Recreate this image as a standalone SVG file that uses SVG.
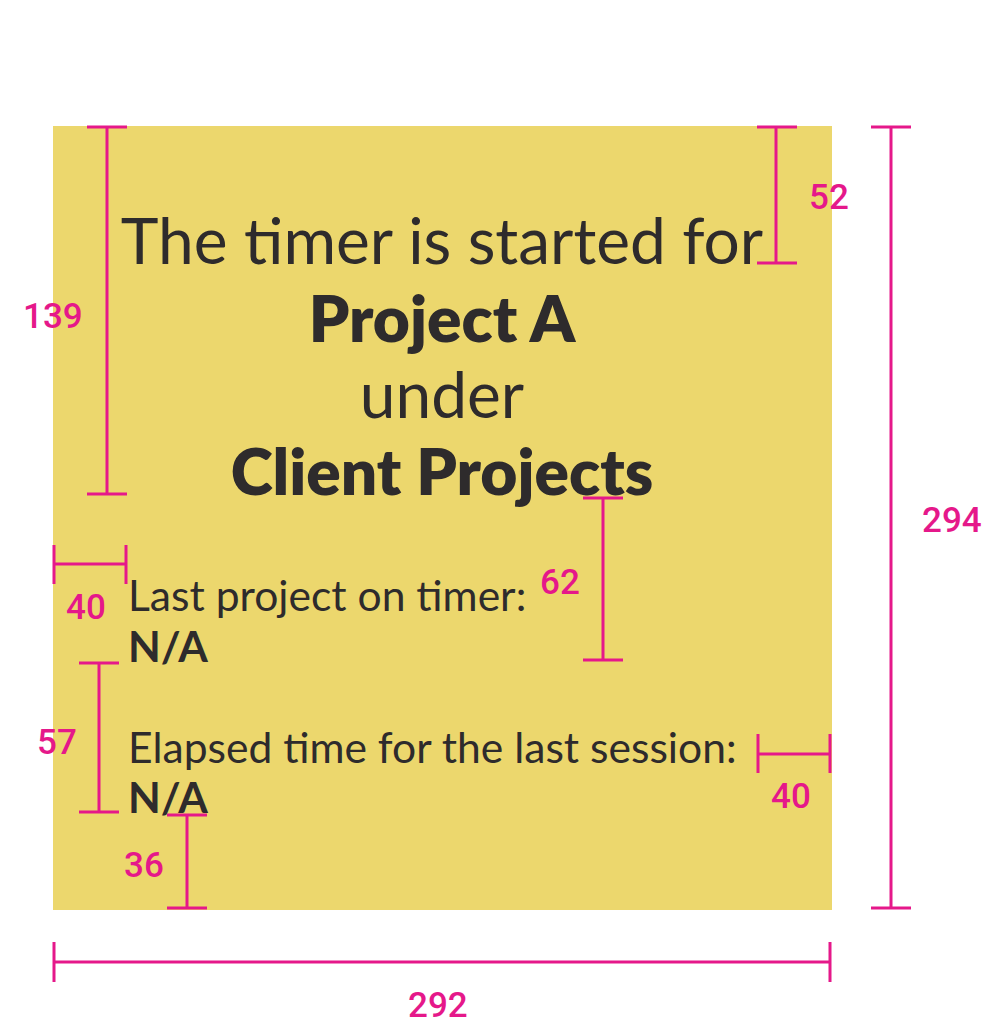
<svg xmlns="http://www.w3.org/2000/svg" width="989" height="1024" viewBox="0 0 989 1024">
<style>
.card{fill:#ECD76D}
.t{font-family:Lato,"Liberation Sans",sans-serif;fill:#2E2B2C}
.big{font-size:64px}
.mid{font-size:42.6px}
.b{font-weight:700}
.bb{font-weight:800}
.dim{stroke:#E5188A;stroke-width:3;fill:none}
.lbl{font-family:Roboto,"DejaVu Sans",sans-serif;font-weight:500;font-size:35px;fill:#E5188A}
</style>
<rect width="989" height="1024" fill="#FFFFFF"/>
<g id="card">
<rect class="card" x="53" y="126" width="779" height="784"/>
<text class="t big" x="442" y="264" text-anchor="middle">The timer is started for</text>
<text class="t big bb" x="442" y="342" text-anchor="middle">Project A</text>
<text class="t big" x="442" y="418" text-anchor="middle">under</text>
<text class="t big bb" x="442" y="495" text-anchor="middle">Client Projects</text>
<text class="t mid" x="128" y="611">Last project on timer:</text>
<text class="t mid b" x="128" y="662">N/A</text>
<text class="t mid" x="128" y="763">Elapsed time for the last session:</text>
<text class="t mid b" x="128" y="813">N/A</text>
</g>
<g id="dimensions">
<path class="dim" d="M107 127V494M87 127H127M87 494H127"/>
<path class="dim" d="M776 127V263M757 127H797M757 263H797"/>
<path class="dim" d="M891 127V908M871 127H911M871 908H911"/>
<path class="dim" d="M54 564H126M54 545V584M126 545V584"/>
<path class="dim" d="M603 498V660M583 498H623M583 660H623"/>
<path class="dim" d="M99 663V812M79 663H119M79 812H119"/>
<path class="dim" d="M758 754H830M758 734V773M830 734V773"/>
<path class="dim" d="M187 815V908M167 815H207M167 908H207"/>
<path class="dim" d="M54 962H830M54 942V982M830 942V982"/>
</g>
<g id="labels">
<text class="lbl" x="23" y="328">139</text>
<text class="lbl" x="809" y="209">52</text>
<text class="lbl" x="922" y="532">294</text>
<text class="lbl" x="66" y="619">40</text>
<text class="lbl" x="540" y="594">62</text>
<text class="lbl" x="37" y="754">57</text>
<text class="lbl" x="771" y="808">40</text>
<text class="lbl" x="124" y="877">36</text>
<text class="lbl" x="408" y="1017">292</text>
</g>
</svg>
